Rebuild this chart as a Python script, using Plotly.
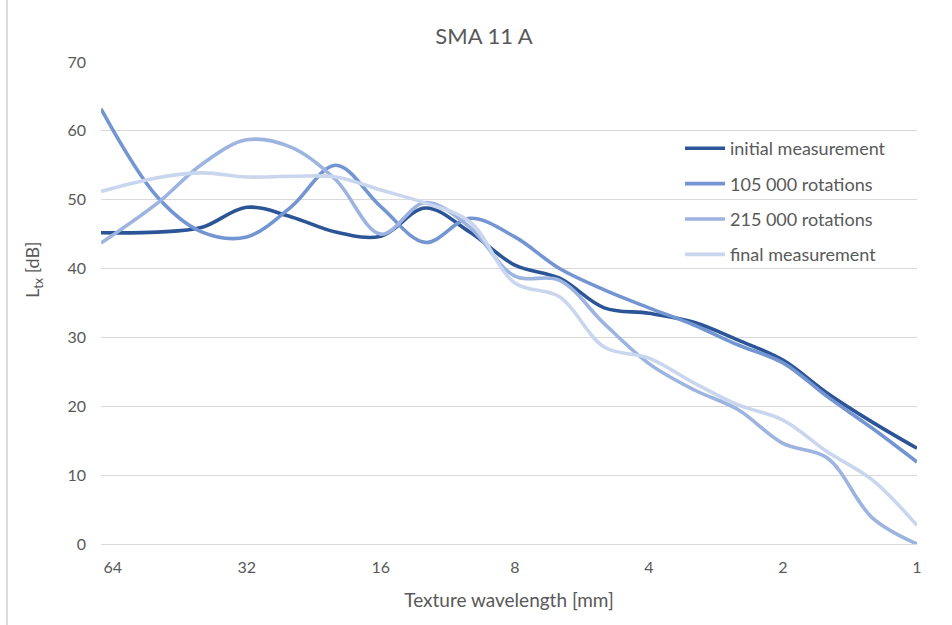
import plotly.graph_objects as go

# Texture wavelength [mm] at which the curves were read (log axis, reversed)
wavelength_mm = [68, 50.8, 40.3, 32, 25.4, 20.2, 16, 12.7, 10.1, 8, 6.35, 5.04, 4, 3.17, 2.52, 2, 1.59, 1.26, 1]

initial_measurement = [45.2, 45.3, 46.0, 48.9, 47.5, 45.3, 44.7, 48.8, 45.3, 40.5, 38.6, 34.3, 33.5, 32.2, 29.6, 26.7, 21.9, 17.7, 13.9]
rot_105000 = [63.2, 50.4, 45.3, 44.6, 49.0, 55.0, 49.0, 43.8, 47.3, 44.6, 40.0, 36.9, 34.3, 31.8, 28.9, 26.3, 21.4, 16.8, 11.9]
rot_215000 = [43.7, 49.5, 55.2, 58.7, 57.6, 52.9, 45.0, 49.6, 46.0, 38.9, 38.3, 32.0, 26.2, 22.4, 19.5, 14.6, 12.5, 3.8, 0.0]
final_measurement = [51.2, 53.2, 53.9, 53.3, 53.4, 53.3, 51.4, 49.5, 46.8, 37.9, 35.9, 28.6, 27.0, 23.4, 20.2, 18.0, 13.4, 9.3, 2.7]

series_names = ["initial measurement", "105 000 rotations", "215 000 rotations", "final measurement"]
series_values = [initial_measurement, rot_105000, rot_215000, final_measurement]
series_colors = ["#2C5597", "#7395D2", "#9DB4E0", "#C9D6EE"]

x_tick_values = [64, 32, 16, 8, 4, 2, 1]
x_tick_labels = ["64", "32", "16", "8", "4", "2", "1"]
y_tick_values = [0, 10, 20, 30, 40, 50, 60, 70]

FONT = "Lato, 'Open Sans', sans-serif"
GREY = "#595959"

fig = go.Figure()
for i, (name, vals, col) in enumerate(zip(series_names, series_values, series_colors)):
    fig.add_trace(go.Scatter(
        x=wavelength_mm, y=vals, name=name, mode="lines",
        line=dict(color=col, width=3.6, shape="spline", smoothing=1.0),
        legendgroup=f"g{i}",
    ))

fig.update_layout(
    width=952, height=625,
    paper_bgcolor="white", plot_bgcolor="white",
    margin=dict(l=101, r=35, t=62, b=81, autoexpand=False),
    font=dict(family=FONT, color=GREY, size=16),
    title=dict(text="SMA 11 A", x=484 / 952, xanchor="center", xref="container",
               y=1 - 36 / 625, yanchor="middle", yref="container",
               font=dict(size=22, color=GREY, family=FONT)),
    xaxis=dict(
        type="log", range=[1.8325, 0.0],
        tickvals=x_tick_values, ticktext=x_tick_labels,
        showgrid=False, zeroline=False, showline=False,
        ticks="", ticklabelstandoff=12,
        tickfont=dict(size=16, color=GREY),
        title=dict(text="Texture wavelength [mm]", font=dict(size=19, color=GREY), standoff=18),
    ),
    yaxis=dict(
        range=[0, 70], tickvals=y_tick_values,
        showgrid=True, gridcolor="#D9D9D9", gridwidth=1,
        zeroline=True, zerolinecolor="#D9D9D9", zerolinewidth=1,
        showline=False, ticks="", ticklabelstandoff=14,
        tickfont=dict(size=16, color=GREY),
    ),
    annotations=[dict(text="L<sub>tx</sub> [dB]", textangle=-90,
                      xref="paper", yref="paper",
                      x=(33 - 101) / 816, y=(544 - 270) / 482,
                      xanchor="center", yanchor="middle", showarrow=False,
                      font=dict(size=18, color=GREY))],
    legend=dict(
        x=(680 - 101) / 816, y=(544 - 130) / 482, xanchor="left", yanchor="top",
        bgcolor="rgba(0,0,0,0)", font=dict(size=18, color=GREY),
        tracegroupgap=9, itemwidth=40,
    ),
    shapes=[dict(type="line", xref="paper", yref="paper",
                 x0=(7 - 101) / 816, x1=(7 - 101) / 816, y0=-0.2, y1=1.2,
                 line=dict(color="#D0D0D0", width=1.5))],
)

fig.write_html("out.html", config={"displayModeBar": False},
               post_script="document.body.style.margin='0';document.body.style.overflow='hidden';")
